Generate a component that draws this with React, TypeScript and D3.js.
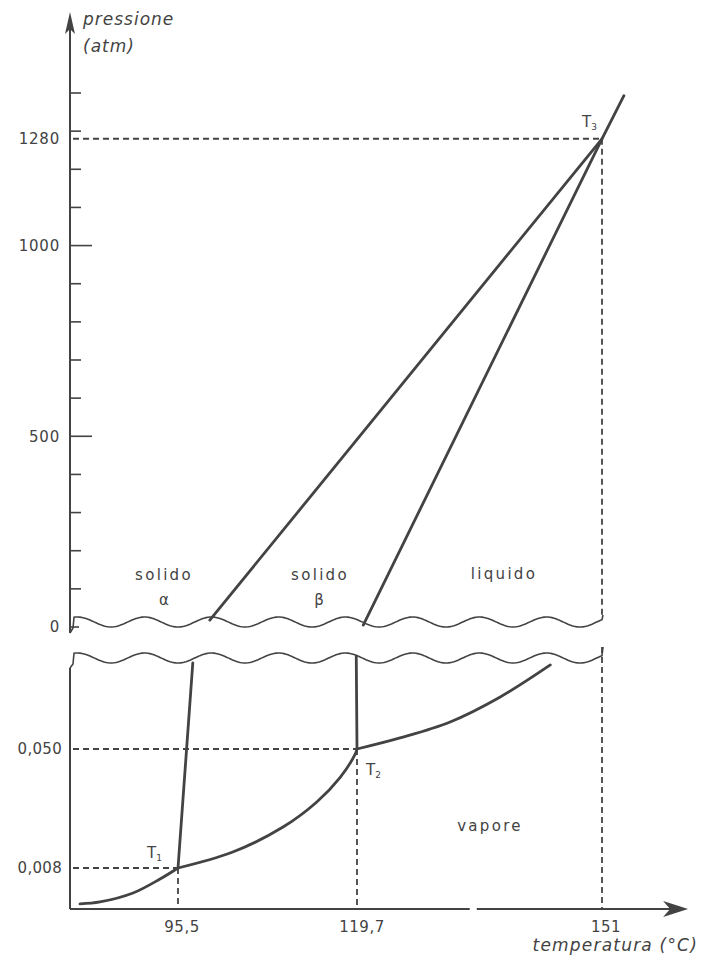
import React from "react";
import * as d3 from "d3";

// ---- data ----
const tempTicks = [95.5, 119.7, 151];
const tempTickLabels = ["95,5", "119,7", "151"];
const tempAxisExtent = [81, 162];
const tempAxisBreak = [134.1, 135.0];

const highPressTicks = [0, 500, 1000, 1280];
const highPressTickLabels = ["0", "500", "1000", "1280"];
const highPressMinor = [100, 200, 300, 400, 600, 700, 800, 900, 1100, 1200, 1300, 1400];
const highPressLabeledMajor = [0, 500, 1000];

const lowPressTicks = [0.008, 0.05];
const lowPressTickLabels = ["0,008", "0,050"];

const triple1 = [95.5, 0.008];
const triple2 = [119.7, 0.05];
const triple3 = [151, 1280];

// low-pressure panel curves [temperature °C, pressure atm]
const sublimationAlpha: [number, number][] = [
  [82.25, 0.0046], [84.95, 0.00474], [89.42, 0.00544], [93.07, 0.00675], [95.5, 0.008],
];
const sublimationBeta: [number, number][] = [
  [95.5, 0.008], [102.9, 0.01023], [109.7, 0.01503], [114.3, 0.0222],
  [117.4, 0.0322], [119.4, 0.0456], [119.7, 0.05],
];
const vaporization: [number, number][] = [
  [119.7, 0.05], [125.2, 0.0593], [131.6, 0.0758], [138.0, 0.1114], [144.4, 0.1824],
];
const alphaBetaLow: [number, number][] = [[95.5, 0.008], [97.5, 0.188]];
const betaLiquidLow: [number, number][] = [[119.7, 0.05], [119.6, 0.209]];

// high-pressure panel curves
const alphaBetaHigh: [number, number][] = [[99.8, 18], [151, 1280]];
const betaLiquidHigh: [number, number][] = [[120.5, 5], [151, 1280], [153.8, 1393]];

const C = "#434343";

export default function App() {
  const x = d3.scaleLinear().domain([95.5, 119.7, 151]).range([178, 357, 602]);
  const yHigh = d3.scaleLinear().domain([0, 1400]).range([627, 93]);
  const yLow = d3.scaleLog().domain([0.008, 0.05]).range([868, 749]);

  const axisX = 70;
  const axisY = 909;
  const upperWaveY = 622;
  const lowerWaveY = 658;

  const lineHigh = d3.line<[number, number]>().x(d => x(d[0])).y(d => yHigh(d[1]));
  const lineLow = d3
    .line<[number, number]>()
    .x(d => x(d[0]))
    .y(d => yLow(d[1]))
    .curve(d3.curveCatmullRom.alpha(0.5));
  const lineLowStraight = d3.line<[number, number]>().x(d => x(d[0])).y(d => yLow(d[1]));

  // decorative axis-break waves
  const wave = (x0: number, x1: number, yc: number) => {
    const pts: [number, number][] = [];
    for (let px = x0; px <= x1; px += 2) {
      pts.push([px, yc + 5 * Math.cos((2 * Math.PI * (px - 580)) / 67)]);
    }
    return d3.line()(pts) as string;
  };

  const xEnd = x(triple3[0]);
  const dash = "6,4";
  const fontNum = "'DejaVu Sans', sans-serif";

  const T = (label: string, sub: string, px: number, py: number) => (
    <text x={px} y={py} fontFamily={fontNum} fontSize={15} fill={C}>
      {label}
      <tspan fontSize={9} dy={3}>{sub}</tspan>
    </text>
  );

  return (
    <svg
      width={706}
      height={960}
      style={{ position: "absolute", left: 0, top: 0, background: "#fff" }}
    >
      {/* y axis upper */}
      <line x1={axisX} y1={20} x2={axisX} y2={633} stroke={C} strokeWidth={2} />
      <path d={`M${axisX},12 L${axisX - 5},34 L${axisX},29 L${axisX + 5},34 Z`} fill={C} />
      {/* y axis lower */}
      <line x1={axisX} y1={668} x2={axisX} y2={axisY} stroke={C} strokeWidth={2} />

      {/* x axis with break */}
      <line x1={axisX} y1={axisY} x2={x(tempAxisBreak[0])} y2={axisY} stroke={C} strokeWidth={2} />
      <line x1={x(tempAxisBreak[1])} y1={axisY} x2={x(tempAxisExtent[1]) - 4} y2={axisY} stroke={C} strokeWidth={2} />
      <path
        d={`M${x(tempAxisExtent[1])},${axisY} L${x(tempAxisExtent[1]) - 25},${axisY - 8} L${x(tempAxisExtent[1]) - 18},${axisY} L${x(tempAxisExtent[1]) - 25},${axisY + 8} Z`}
        fill={C}
      />

      {/* waves */}
      <path d={`M${axisX},633 L${axisX + 3},628 ` + wave(axisX + 4, xEnd, upperWaveY).replace("M", "L") + ` L${xEnd + 1},615`} fill="none" stroke={C} strokeWidth={1.6} />
      <path d={`M${axisX},668 L${axisX + 3},664 ` + wave(axisX + 4, xEnd, lowerWaveY).replace("M", "L") + ` L${xEnd + 1},647`} fill="none" stroke={C} strokeWidth={1.6} />

      {/* upper ticks */}
      {highPressMinor.map(v => (
        <line key={"m" + v} x1={axisX} x2={axisX + 11} y1={yHigh(v)} y2={yHigh(v)} stroke={C} strokeWidth={1.6} />
      ))}
      {highPressLabeledMajor.map(v => (
        <line key={"M" + v} x1={axisX} x2={axisX + (v === 0 ? 9 : 22)} y1={yHigh(v)} y2={yHigh(v)} stroke={C} strokeWidth={1.6} />
      ))}
      {highPressTicks.map((v, i) => (
        <text key={"hl" + v} x={60} y={yHigh(v)} dy="0.35em" textAnchor="end" fontFamily={fontNum} fontSize={15} letterSpacing={0.8} fill={C}>
          {highPressTickLabels[i]}
        </text>
      ))}
      {lowPressTicks.map((v, i) => (
        <text key={"ll" + v} x={62} y={yLow(v)} dy="0.35em" textAnchor="end" fontFamily={fontNum} fontSize={15} letterSpacing={0.3} fill={C}>
          {lowPressTickLabels[i]}
        </text>
      ))}
      {tempTicks.map((v, i) => (
        <text key={"tl" + v} x={x(v) + (i === 1 ? 5 : 4)} y={927} dy="0.35em" textAnchor="middle" fontFamily={fontNum} fontSize={15} letterSpacing={0.5} fill={C}>
          {tempTickLabels[i]}
        </text>
      ))}

      {/* dashed guides */}
      <g stroke={C} strokeWidth={1.8} strokeDasharray={dash} fill="none">
        <line x1={axisX + 3} y1={yHigh(triple3[1])} x2={x(triple3[0])} y2={yHigh(triple3[1])} />
        <line x1={x(triple3[0])} y1={yHigh(triple3[1])} x2={x(triple3[0])} y2={615} />
        <line x1={x(triple3[0])} y1={647} x2={x(triple3[0])} y2={axisY} />
        <line x1={axisX + 3} y1={yLow(triple2[1])} x2={x(triple2[0])} y2={yLow(triple2[1])} />
        <line x1={axisX + 3} y1={yLow(triple1[1])} x2={x(triple1[0])} y2={yLow(triple1[1])} />
        <line x1={x(triple1[0])} y1={yLow(triple1[1])} x2={x(triple1[0])} y2={axisY} />
        <line x1={x(triple2[0])} y1={yLow(triple2[1])} x2={x(triple2[0])} y2={axisY} />
      </g>

      {/* phase boundaries */}
      <g stroke={C} strokeWidth={2.8} fill="none" strokeLinecap="round" strokeLinejoin="round">
        <path d={lineHigh(alphaBetaHigh) as string} />
        <path d={lineHigh(betaLiquidHigh) as string} />
        <path d={lineLow(sublimationAlpha) as string} />
        <path d={lineLow(sublimationBeta) as string} />
        <path d={lineLow(vaporization) as string} />
        <path d={lineLowStraight(alphaBetaLow) as string} />
        <path d={lineLowStraight(betaLiquidLow) as string} />
      </g>

      {/* axis titles */}
      <text x={83} y={25} fontFamily={fontNum} fontStyle="italic" fontSize={17} letterSpacing={1} fill={C}>pressione</text>
      <text x={83} y={52} fontFamily={fontNum} fontStyle="italic" fontSize={17} letterSpacing={1} fill={C}>(atm)</text>
      <text x={698} y={951} textAnchor="end" fontFamily={fontNum} fontStyle="italic" fontSize={17} letterSpacing={1.2} fill={C}>temperatura (°C)</text>

      {/* region labels */}
      <g fontFamily={fontNum} fontSize={15} fill={C} textAnchor="middle" letterSpacing={2.3}>
        <text x={164} y={580}>solido</text>
        <text x={164} y={605} letterSpacing={0}>α</text>
        <text x={320} y={580}>solido</text>
        <text x={319} y={605} letterSpacing={0}>β</text>
        <text x={504} y={579}>liquido</text>
        <text x={490} y={831}>vapore</text>
      </g>

      {T("T", "1", 147, 858)}
      {T("T", "2", 366, 775)}
      {T("T", "3", 582, 127)}
    </svg>
  );
}
